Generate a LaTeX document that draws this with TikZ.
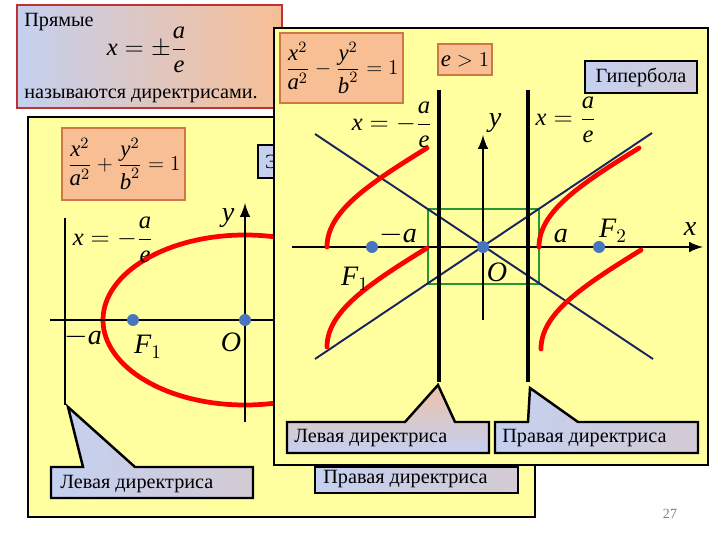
\documentclass[tikz,border=0pt]{standalone}
\usepackage{amsmath}
\usepackage{fontspec}
\setmainfont{Liberation Serif}
\usepackage{tikz}
\usetikzlibrary{arrows}

\definecolor{panelyellow}{RGB}{255,255,160}
\definecolor{peach}{RGB}{248,190,148}
\definecolor{peachedge}{RGB}{205,120,70}
\definecolor{paleblue}{RGB}{196,208,240}
\definecolor{dotblue}{RGB}{72,118,190}
\definecolor{asymblue}{RGB}{25,35,95}
\definecolor{rectgreen}{RGB}{40,150,50}
\definecolor{boxred}{RGB}{190,50,50}

\newcommand{\mv}[1]{\textit{#1}}

\tikzset{
  panel/.style={draw=black, fill=panelyellow, line width=0.6pt},
  formbox/.style={draw=peachedge, fill=peach, line width=0.6pt},
  namebox/.style={draw=black, line width=0.8pt, left color=paleblue, right color=paleblue!75!peach},
  callout/.style={draw=black, line width=1.4pt, line join=miter},
  focus/.style={circle, fill=dotblue, inner sep=0pt, minimum size=0.24cm},
  axis/.style={line width=1.7pt},
  directrix/.style={line width=2.3pt},
  branch/.style={red, line width=2.7pt, line cap=round},
  asym/.style={asymblue, line width=1.1pt},
  txt/.style={font=\fontsize{11.5}{13}\selectfont, inner sep=0pt},
  mth/.style={font=\fontsize{14}{16}\selectfont, inner sep=0pt},
  boxmth/.style={font=\fontsize{13}{15}\selectfont, inner sep=0pt},
  lbl/.style={font=\fontsize{16}{18}\selectfont, inner sep=0pt}
}

\begin{document}
\begin{tikzpicture}[x=0.02cm,y=-0.02cm]
       \useasboundingbox[fill=white] (0,0) rectangle (720,540);

       \draw[boxred, line width=0.6pt, left color=paleblue, right color=peach] (17,5) rectangle (282,108);
       \node[txt, anchor=west] (pryamye) at (24,22) {Прямые};
       \node[mth] (dirform) at (147,50) {$\mv{x}=\pm\dfrac{\mv{a}}{\mv{e}}$};
       \node[txt, anchor=west] (nazyv) at (24,96) {называются директрисами.};

       \draw[panel] (28,117) rectangle (535,517);
       \draw[formbox] (62,128) rectangle (185,200);
       \node[boxmth] (elform) at (124,164) {$\dfrac{\mv{x}^2}{\mv{a}^2}+\dfrac{\mv{y}^2}{\mv{b}^2}=1$};
       \draw[namebox] (258,145) rectangle (336,178);
       \node[txt] (elname) at (297,162) {Эллипс};
       \draw[red, line width=2.7pt] (245,320) ellipse [x radius=142, y radius=85];
       \draw[axis, -latex] (50,320) -- (510,320);
       \draw[axis, -latex] (245,422) -- (245,203);
       \draw[axis] (65,218) -- (65,405);
       \node[focus] (elF1) at (133,320) {};
       \node[focus] (elO) at (245,320) {};
       \node[mth] (elleft) at (113,240) {$\mv{x}=-\dfrac{\mv{a}}{\mv{e}}$};
       \node[lbl] (ely) at (228,218) {\mv{y}};
       \node[lbl] (elmina) at (83,337) {$-\mv{a}$};
       \node[lbl] (elF1lbl) at (148,347) {$\mv{F}_1$};
       \node[lbl] (elOlbl) at (231,342) {\mv{O}};
       \draw[callout, left color=paleblue, right color=paleblue!70!peach] (51,467) -- (83,467) -- (68,407) -- (135,467) -- (253,467) -- (253,498) -- (51,498) -- cycle;
       \node[txt, anchor=west] (elleftcall) at (60,484) {Левая директриса};
       \draw[callout, left color=paleblue, right color=paleblue!70!peach] (315,467) rectangle (518,493);
       \node[txt, anchor=west] (elrightcall) at (323,479) {Правая директриса};

       \draw[panel] (274,28) rectangle (708,465);
       \draw[formbox] (280,33) rectangle (403,103);
       \node[boxmth] (hyform) at (342,68) {$\dfrac{\mv{x}^2}{\mv{a}^2}-\dfrac{\mv{y}^2}{\mv{b}^2}=1$};
       \draw[formbox] (438,44) rectangle (492,75);
       \node[boxmth] (ecc) at (465,60) {$\mv{e}>1$};
       \draw[namebox] (585,61) rectangle (697,93);
       \node[txt] (hyname) at (641,77) {Гипербола};
       \draw[rectgreen, line width=0.8pt] (428,209) rectangle (539,284);
       \draw[asym] (315,134) -- (653,359);
       \draw[asym] (652,133) -- (315,359);
       \draw[axis, -latex] (292,247) -- (703,247);
       \draw[axis, -latex] (483,320) -- (483,135);
       \draw[directrix] (439,90) -- (439,382);
       \draw[directrix] (528,90) -- (528,382);
       \foreach \px/\py in {327/247, 539/247, 327/347, 541/349}
         \draw[branch, shift={(\px,\py)}] (0,0) .. controls (0,-35) and (40,-62) .. (100,-99);
       \node[focus] (hyF1) at (372,247) {};
       \node[focus] (hyO) at (483,247) {};
       \node[focus] (hyF2) at (599,247) {};
       \node[mth] (hyleft) at (392,125) {$\mv{x}=-\dfrac{\mv{a}}{\mv{e}}$};
       \node[mth] (hyright) at (566,120) {$\mv{x}=\dfrac{\mv{a}}{\mv{e}}$};
       \node[lbl] (hyy) at (495,123) {\mv{y}};
       \node[lbl] (hymina) at (398,235) {$-\mv{a}$};
       \node[lbl] (hya) at (561,236) {\mv{a}};
       \node[lbl] (hyF2lbl) at (613,231) {$\mv{F}_2$};
       \node[lbl] (hyx) at (690,229) {\mv{x}};
       \node[lbl] (hyOlbl) at (497,272) {\mv{O}};
       \node[lbl] (hyF1lbl) at (355,279) {$\mv{F}_1$};
       \draw[callout, top color=peach!80!paleblue, bottom color=paleblue] (287,422) -- (405,422) -- (438,385) -- (455,422) -- (489,422) -- (489,453) -- (287,453) -- cycle;
       \node[txt, anchor=west] (hyleftcall) at (294,438) {Левая директриса};
       \draw[callout, left color=paleblue, right color=paleblue!70!peach] (495,422) -- (528,422) -- (530,388) -- (578,422) -- (698,422) -- (698,453) -- (495,453) -- cycle;
       \node[txt, anchor=west] (hyrightcall) at (502,438) {Правая директриса};

       \node[font=\fontsize{8}{9}\selectfont, text=gray] (pagenum) at (670,514) {27};
      \end{tikzpicture}
\end{document}
